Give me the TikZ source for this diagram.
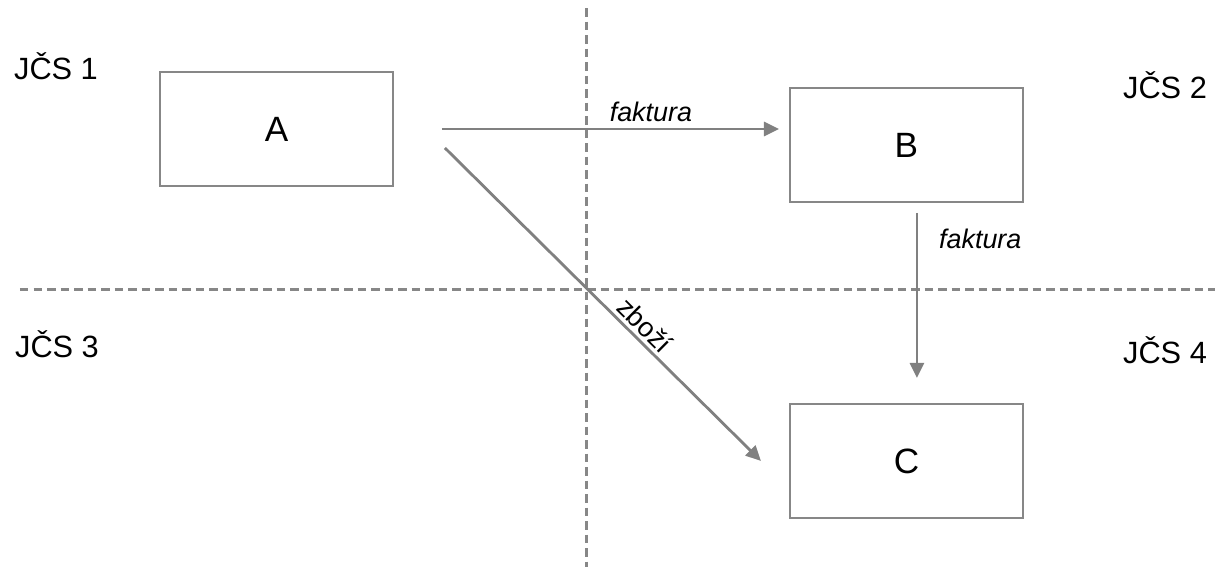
\documentclass[tikz,border=0pt]{standalone}
\usepackage{fontspec}
\setmainfont{Liberation Sans}
\usetikzlibrary{arrows.meta}
\usetikzlibrary{positioning}
\definecolor{linegray}{rgb}{0.53,0.53,0.53}
\colorlet{arrowgray}{black!50}
\tikzset{
	border/.style={draw=linegray,line width=1.3pt,dash pattern=on 0.17cm off 0.1cm},
	region/.style={anchor=base,font=\fontsize{17.5}{20}\selectfont},
	box/.style={draw=linegray,line width=1.1pt,minimum width=4.66cm,minimum height=2.28cm,font=\fontsize{20}{22}\selectfont},
	flow/.style={draw=arrowgray,line width=1.6pt,-{Triangle[length=0.3cm,width=0.28cm]}},
	flowlabel/.style={font=\fontsize{15.3}{17}\selectfont\itshape}
}

\begin{document}
\begin{tikzpicture}
	\useasboundingbox (0,0) rectangle (24.3,-11.34);
	
	% dashed borders
	\draw[border] (11.73,-0.16) -- (11.73,-11.34);
	\draw[border] (0.4,-5.79) -- (24.3,-5.79);
	
	% region labels
	\node[region] (jcs1) at (1.12,-1.58) {JČS 1};
	\node[region] (jcs2) at (23.3,-1.96) {JČS 2};
	\node[region] (jcs3) at (1.14,-7.14) {JČS 3};
	\node[region] (jcs4) at (23.3,-7.26) {JČS 4};
	
	% boxes
	\node[box] (A) at (5.53,-2.58) {A};
	\node[box,right=7.9cm of A,yshift=-0.32cm] (B) {B};
	\node[box,below=4cm of B] (C) {C};
	
	% arrows
	\draw[flow] ([xshift=0.96cm]A.east) -- ([xshift=-0.2cm]A.east -| B.west)
		node[flowlabel,above,pos=0.62] {faktura};
	\draw[flow] ([xshift=1.02cm,yshift=-0.38cm]A.east) -- ([xshift=-0.56cm]C.west)
		node[sloped,above,pos=0.6,inner sep=2pt,font=\fontsize{15.5}{17}\selectfont] {zboží};
	\draw[flow] ([xshift=0.21cm,yshift=-0.2cm]B.south) -- ([xshift=0.21cm,yshift=0.5cm]C.north)
		node[flowlabel,right,pos=0.16,xshift=0.3cm] {faktura};
\end{tikzpicture}
\end{document}
